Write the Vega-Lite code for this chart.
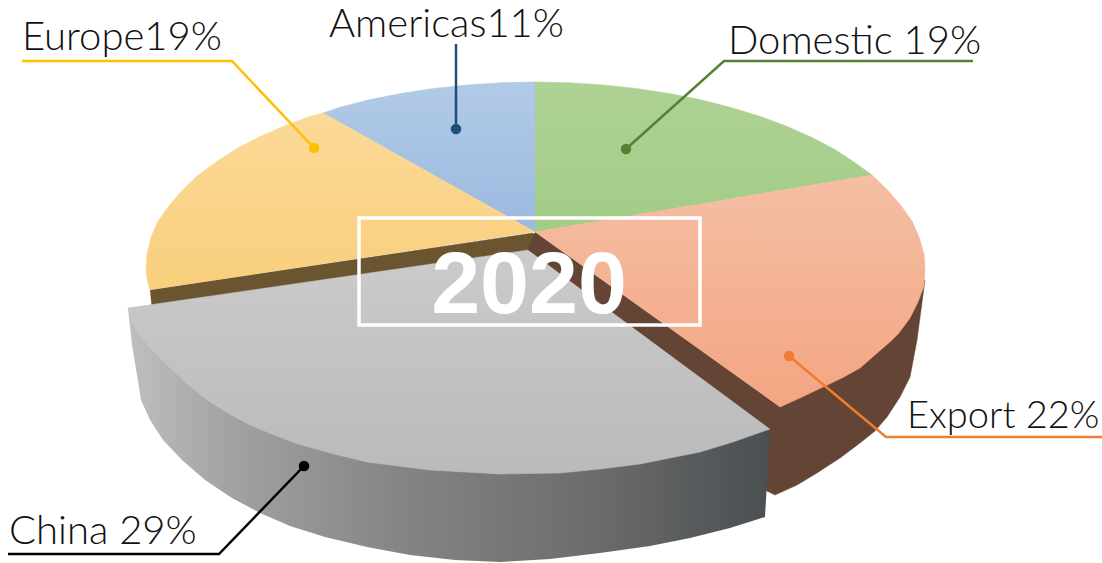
{
"$schema":"https://vega.github.io/schema/vega-lite/v6.json",
"width":1102,"height":563,"padding":0,
"autosize":{"type":"none"},
"background":"white",
"config":{"view":{"stroke":null}},
"datasets":{
"europeWall":[{"i":1,"x":150,"y":290},{"i":2,"x":533,"y":233},{"i":3,"x":540,"y":240},{"i":4,"x":530,"y":256},{"i":5,"x":152,"y":310}],
"exportWall":[{"i":1,"x":535,"y":232},{"i":2,"x":780,"y":407},{"i":3,"x":890,"y":340},{"i":4,"x":925,"y":280},{"i":5,"x":921,"y":310},{"i":6,"x":917,"y":340},{"i":7,"x":910,"y":377},{"i":8,"x":900,"y":397},{"i":9,"x":887,"y":417},{"i":10,"x":875,"y":431},{"i":11,"x":860,"y":443},{"i":12,"x":840,"y":458},{"i":13,"x":817,"y":473},{"i":14,"x":797,"y":485},{"i":15,"x":775,"y":495},{"i":16,"x":765,"y":490},{"i":17,"x":765,"y":430},{"i":18,"x":528,"y":250}],
"domestic":[{"i":1,"x":535,"y":232},{"i":2,"x":535,"y":82},{"i":3,"x":569,"y":82.7},{"i":4,"x":603,"y":84.9},{"i":5,"x":636,"y":88.4},{"i":6,"x":668,"y":93.3},{"i":7,"x":700,"y":99.6},{"i":8,"x":730,"y":107.2},{"i":9,"x":759,"y":116},{"i":10,"x":786,"y":126},{"i":11,"x":811,"y":137},{"i":12,"x":834,"y":149},{"i":13,"x":854,"y":162},{"i":14,"x":872,"y":175}],
"americas":[{"i":1,"x":535,"y":232},{"i":2,"x":323,"y":113},{"i":3,"x":340,"y":107.2},{"i":4,"x":370,"y":99.6},{"i":5,"x":402,"y":93.3},{"i":6,"x":434,"y":88.4},{"i":7,"x":467,"y":84.9},{"i":8,"x":501,"y":82.7},{"i":9,"x":535,"y":82}],
"europe":[{"i":1,"x":535,"y":232},{"i":2,"x":323,"y":113},{"i":3,"x":311,"y":116},{"i":4,"x":284,"y":126},{"i":5,"x":259,"y":137},{"i":6,"x":236,"y":149},{"i":7,"x":216,"y":162},{"i":8,"x":197,"y":176},{"i":9,"x":182,"y":190.6},{"i":10,"x":169,"y":205.7},{"i":11,"x":158,"y":221},{"i":12,"x":151,"y":237},{"i":13,"x":147,"y":254},{"i":14,"x":146,"y":270},{"i":15,"x":147,"y":280},{"i":16,"x":150,"y":290}],
"export":[{"i":1,"x":535,"y":232},{"i":2,"x":872,"y":175},{"i":3,"x":888,"y":190.6},{"i":4,"x":901,"y":205.7},{"i":5,"x":912,"y":221},{"i":6,"x":919,"y":237},{"i":7,"x":924,"y":254},{"i":8,"x":925,"y":270},{"i":9,"x":924,"y":286},{"i":10,"x":918,"y":302},{"i":11,"x":910,"y":318},{"i":12,"x":899,"y":333},{"i":13,"x":891,"y":341},{"i":14,"x":876,"y":354},{"i":15,"x":860,"y":368},{"i":16,"x":842,"y":378},{"i":17,"x":823,"y":387},{"i":18,"x":802,"y":397},{"i":19,"x":780,"y":407}],
"chinaWall":[{"i":1,"x":128,"y":308},{"i":2,"x":132,"y":345},{"i":3,"x":137,"y":375},{"i":4,"x":141,"y":400},{"i":5,"x":150,"y":420},{"i":6,"x":163,"y":440},{"i":7,"x":182,"y":460},{"i":8,"x":205,"y":480},{"i":9,"x":232,"y":498},{"i":10,"x":260,"y":513},{"i":11,"x":290,"y":526},{"i":12,"x":325,"y":537},{"i":13,"x":367,"y":547},{"i":14,"x":410,"y":555},{"i":15,"x":455,"y":560},{"i":16,"x":500,"y":562},{"i":17,"x":550,"y":559},{"i":18,"x":600,"y":553},{"i":19,"x":650,"y":546},{"i":20,"x":690,"y":538},{"i":21,"x":730,"y":528},{"i":22,"x":765,"y":517},{"i":23,"x":770,"y":429}],
"china":[{"i":1,"x":528,"y":250},{"i":2,"x":128,"y":308},{"i":3,"x":131,"y":320},{"i":4,"x":138,"y":333},{"i":5,"x":150,"y":348},{"i":6,"x":167,"y":365},{"i":7,"x":186,"y":383},{"i":8,"x":207,"y":400},{"i":9,"x":228,"y":413},{"i":10,"x":250,"y":425},{"i":11,"x":272,"y":434},{"i":12,"x":295,"y":443},{"i":13,"x":330,"y":453},{"i":14,"x":367,"y":462},{"i":15,"x":430,"y":470},{"i":16,"x":500,"y":474},{"i":17,"x":560,"y":473},{"i":18,"x":600,"y":469},{"i":19,"x":640,"y":464},{"i":20,"x":670,"y":458},{"i":21,"x":700,"y":452},{"i":22,"x":733,"y":442},{"i":23,"x":770,"y":429}],
"leaders":[
{"s":"Europe","i":1,"x":22,"y":61},{"s":"Europe","i":2,"x":232,"y":61},{"s":"Europe","i":3,"x":314,"y":148},
{"s":"Americas","i":1,"x":456,"y":44},{"s":"Americas","i":2,"x":456,"y":129},
{"s":"Domestic","i":1,"x":973,"y":61},{"s":"Domestic","i":2,"x":724,"y":61},{"s":"Domestic","i":3,"x":626,"y":149},
{"s":"Export","i":1,"x":1102,"y":437},{"s":"Export","i":2,"x":886,"y":437},{"s":"Export","i":3,"x":789,"y":356},
{"s":"China","i":1,"x":8,"y":554},{"s":"China","i":2,"x":219,"y":554},{"s":"China","i":3,"x":304,"y":466}
],
"dots":[
{"s":"Europe","x":314,"y":148},{"s":"Americas","x":456,"y":129},{"s":"Domestic","x":626,"y":149},{"s":"Export","x":789,"y":356},{"s":"China","x":304,"y":466}
],
"labels":[
{"label":"Europe19%","x":22,"y":50},{"label":"Americas11%","x":329,"y":37},{"label":"Domestic 19%","x":728,"y":54},{"label":"China 29%","x":9,"y":544}
]
},
"encoding":{
"x":{"field":"x","type":"quantitative","scale":{"domain":[0,1102],"nice":false,"zero":false},"axis":null},
"y":{"field":"y","type":"quantitative","scale":{"domain":[563,0],"nice":false,"zero":false},"axis":null}
},
"layer":[
{"data":{"name":"europeWall"},"mark":{"type":"line","fill":"#6b5430","stroke":"#6b5430","strokeWidth":0.5},"encoding":{"order":{"field":"i"}}},
{"data":{"name":"exportWall"},"mark":{"type":"line","fill":"#644434","stroke":"#644434","strokeWidth":0.5},"encoding":{"order":{"field":"i"}}},
{"data":{"name":"domestic"},"mark":{"type":"line","stroke":"#a6cf8c","strokeWidth":0.5,"fill":{"gradient":"linear","x1":0,"y1":0,"x2":0,"y2":1,"stops":[{"offset":0,"color":"#aed294"},{"offset":1,"color":"#a3cc87"}]}},"encoding":{"order":{"field":"i"}}},
{"data":{"name":"americas"},"mark":{"type":"line","stroke":"#a8c4e3","strokeWidth":0.5,"fill":{"gradient":"linear","x1":0,"y1":0,"x2":0,"y2":1,"stops":[{"offset":0,"color":"#b1cae6"},{"offset":1,"color":"#9bb9e0"}]}},"encoding":{"order":{"field":"i"}}},
{"data":{"name":"europe"},"mark":{"type":"line","stroke":"#fbd58b","strokeWidth":0.5,"fill":{"gradient":"linear","x1":0,"y1":0,"x2":0,"y2":1,"stops":[{"offset":0,"color":"#fbd998"},{"offset":1,"color":"#f9cf7c"}]}},"encoding":{"order":{"field":"i"}}},
{"data":{"name":"export"},"mark":{"type":"line","stroke":"#f4b090","strokeWidth":0.5,"fill":{"gradient":"linear","x1":0,"y1":0,"x2":0,"y2":1,"stops":[{"offset":0,"color":"#f4bfa5"},{"offset":1,"color":"#f4a582"}]}},"encoding":{"order":{"field":"i"}}},
{"data":{"name":"chinaWall"},"mark":{"type":"line","stroke":null,"fill":{"gradient":"linear","x1":0,"y1":0,"x2":1,"y2":0,"stops":[{"offset":0,"color":"#bfbfbf"},{"offset":0.16,"color":"#a2a2a2"},{"offset":0.42,"color":"#858585"},{"offset":0.7,"color":"#6e6e6e"},{"offset":1,"color":"#4a4f52"}]}},"encoding":{"order":{"field":"i"}}},
{"data":{"name":"china"},"mark":{"type":"line","stroke":"#c4c4c4","strokeWidth":0.5,"fill":{"gradient":"linear","x1":0,"y1":0,"x2":0,"y2":1,"stops":[{"offset":0,"color":"#cbcbcb"},{"offset":1,"color":"#bababa"}]}},"encoding":{"order":{"field":"i"}}},
{"data":{"name":"leaders"},"mark":{"type":"line","strokeWidth":2.5,"interpolate":"linear"},"encoding":{"order":{"field":"i"},"color":{"field":"s","type":"nominal","legend":null,"scale":{"domain":["Europe","Americas","Domestic","Export","China"],"range":["#ffc000","#1f4e79","#548235","#ed7d31","#000000"]}}}},
{"data":{"name":"dots"},"mark":{"type":"point","filled":true,"size":110,"opacity":1},"encoding":{"color":{"field":"s","type":"nominal","legend":null}}},
{"data":{"values":[{"x":359,"x2":700,"y":218,"y2":325}]},"mark":{"type":"rect","fill":null,"stroke":"white","strokeWidth":3.5},"encoding":{"x2":{"field":"x2"},"y2":{"field":"y2"}}},
{"data":{"values":[{"label":"2020","x":529,"y":313}]},"mark":{"type":"text","font":"Liberation Sans","fontWeight":"bold","fontSize":88,"color":"white","align":"center","baseline":"alphabetic"},"encoding":{"text":{"field":"label"}}},
{"data":{"name":"labels"},"mark":{"type":"text","font":"Lato","fontWeight":300,"fontSize":40,"color":"#111111","align":"left","baseline":"alphabetic"},"encoding":{"text":{"field":"label"}}},
{"data":{"values":[{"label":"Export 22%","x":907,"y":428}]},"mark":{"type":"text","font":"Lato","fontWeight":300,"fontSize":38,"color":"#111111","align":"left","baseline":"alphabetic"},"encoding":{"text":{"field":"label"}}}
]
}
